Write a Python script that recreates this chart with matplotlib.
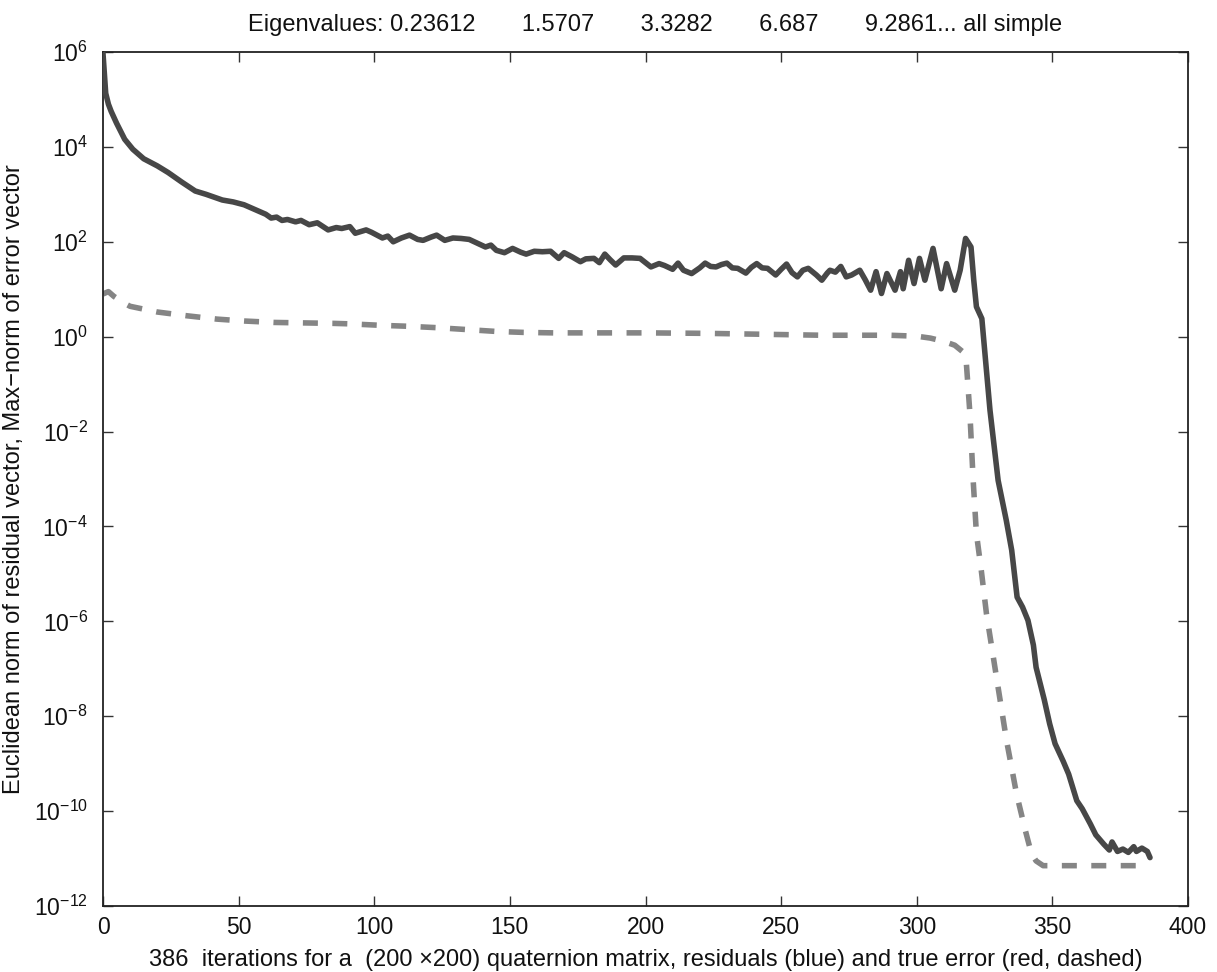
import numpy as np
import matplotlib
matplotlib.use("Agg")
import matplotlib.pyplot as plt
from matplotlib.ticker import LogFormatterSciNotation, NullLocator, FixedLocator

plt.rcParams['font.family'] = ['Liberation Sans', 'DejaVu Sans']
plt.rcParams['mathtext.fontset'] = 'custom'
plt.rcParams['mathtext.rm'] = 'Liberation Sans'
plt.rcParams['mathtext.it'] = 'Liberation Sans:italic'
plt.rcParams['mathtext.bf'] = 'Liberation Sans:bold'
plt.rcParams['mathtext.default'] = 'regular'
plt.rcParams['lines.scale_dashes'] = False

# Residual norm (solid): iteration, log10(value)
res_iter = [0, 1, 2, 3, 5, 8, 11, 15, 20, 24, 29, 34, 38, 44, 48, 52, 56, 60, 62, 64,
            66, 68, 71, 73, 76, 79, 83, 86, 88, 91, 93, 97, 99, 101, 103, 105, 107, 110, 113, 116,
            118, 121, 123, 126, 129, 132, 135, 138, 141, 143, 145, 148, 151, 154, 156, 159, 162, 165, 168, 170,
            173, 176, 178, 181, 183, 185, 187, 189, 192, 195, 198, 200, 202, 205, 207, 210, 212, 214, 217, 220,
            222, 224, 226, 228, 230, 232, 234, 237, 239, 241, 243, 245, 248, 250, 252, 254, 256, 258, 260, 263,
            265, 267, 268, 270, 272, 274, 276, 279, 281, 283, 285, 287, 289, 292, 294, 295, 297, 299, 301, 303,
            306, 309, 311, 314, 316, 318, 320, 321, 322, 324, 327, 330, 333, 335, 337, 339, 341, 343, 344, 347,
            349, 351, 354, 356, 359, 361, 364, 366, 369, 371, 372, 374, 376, 378, 380, 381, 383, 385, 386]
res_log10 = [5.97, 5.13, 4.90, 4.75, 4.50, 4.16, 3.95, 3.75, 3.60, 3.46, 3.26, 3.07, 3.00, 2.88, 2.84, 2.78, 2.68, 2.58, 2.50, 2.52,
             2.45, 2.47, 2.42, 2.45, 2.36, 2.40, 2.25, 2.30, 2.28, 2.32, 2.18, 2.25, 2.20, 2.14, 2.08, 2.12, 2.00, 2.08, 2.14, 2.05,
             2.03, 2.10, 2.14, 2.03, 2.08, 2.07, 2.05, 1.97, 1.89, 1.93, 1.82, 1.77, 1.86, 1.78, 1.74, 1.80, 1.79, 1.80, 1.65, 1.77,
             1.68, 1.58, 1.64, 1.65, 1.56, 1.74, 1.62, 1.51, 1.66, 1.66, 1.65, 1.56, 1.47, 1.54, 1.50, 1.42, 1.55, 1.40, 1.33, 1.45,
             1.55, 1.48, 1.47, 1.52, 1.55, 1.45, 1.44, 1.34, 1.46, 1.54, 1.45, 1.44, 1.30, 1.42, 1.53, 1.35, 1.26, 1.40, 1.44, 1.30,
             1.19, 1.34, 1.40, 1.36, 1.48, 1.26, 1.30, 1.40, 1.20, 0.98, 1.37, 0.91, 1.33, 0.98, 1.37, 1.01, 1.61, 1.12, 1.65, 1.19,
             1.86, 1.01, 1.54, 0.98, 1.40, 2.07, 1.89, 1.20, 0.63, 0.38, -1.55, -3.03, -3.87, -4.50, -5.49, -5.70, -5.98, -6.50, -6.97, -7.65,
             -8.16, -8.58, -8.95, -9.22, -9.78, -9.95, -10.27, -10.50, -10.70, -10.82, -10.65, -10.85, -10.80, -10.87, -10.75, -10.85, -10.78, -10.85, -10.98]

# True error (dashed): iteration, log10(value)
err_iter = [0, 2, 4, 8, 10, 15, 20, 31, 42, 52, 63, 74, 85, 91, 102, 112, 123, 134, 145, 155,
            166, 200, 222, 244, 265, 290, 300, 305, 310, 314, 317, 318.3, 319.6, 320.8, 322, 323.8, 325.7, 329.4, 333.1, 336.8,
            340, 342.3, 344, 346.6, 384]
err_log10 = [0.90, 0.95, 0.85, 0.70, 0.64, 0.58, 0.52, 0.44, 0.37, 0.33, 0.30, 0.29, 0.28, 0.27, 0.24, 0.22, 0.19, 0.15, 0.11, 0.09,
             0.08, 0.08, 0.07, 0.05, 0.03, 0.03, 0.01, -0.03, -0.10, -0.18, -0.32, -0.57, -1.62, -3.03, -4.15, -4.93, -5.84, -7.18, -8.51, -9.64,
             -10.40, -10.90, -11.05, -11.15, -11.15]

x_ticks = [0, 50, 100, 150, 200, 250, 300, 350, 400]
y_ticks = [1e-12, 1e-10, 1e-8, 1e-6, 1e-4, 1e-2, 1e0, 1e2, 1e4, 1e6]

title_text = "Eigenvalues: 0.23612       1.5707       3.3282       6.687       9.2861... all simple"
xlabel_text = "386  iterations for a  (200 \u00d7200) quaternion matrix, residuals (blue) and true error (red, dashed)"
ylabel_text = "Euclidean norm of residual vector, Max\u2212norm of error vector"

W, H = 1217, 972
fig = plt.figure(figsize=(W / 100, H / 100), dpi=100)
ax = fig.add_axes([103 / W, 1 - 906 / H, (1188 - 103) / W, (906 - 52) / H])

ax.semilogy(res_iter, 10.0 ** np.array(res_log10), color='#474747', lw=4.0,
            solid_joinstyle='round', solid_capstyle='round', zorder=3)
ax.semilogy(err_iter, 10.0 ** np.array(err_log10), color='#858585', lw=4.0,
            dashes=(10.8, 10.4), zorder=2)

ax.set_xlim(0, 400)
ax.set_ylim(1e-12, 1e6)
ax.xaxis.set_major_locator(FixedLocator(x_ticks))
ax.yaxis.set_major_locator(FixedLocator(y_ticks))
ax.yaxis.set_minor_locator(NullLocator())
ax.yaxis.set_major_formatter(LogFormatterSciNotation())
ax.tick_params(which='major', direction='in', length=7.5, width=1.0, color='#333333',
               top=True, right=True, labelsize=16.5, labelcolor='#111111')
ax.tick_params(axis='x', pad=7)
ax.tick_params(axis='y', pad=11)
for s in ax.spines.values():
    s.set_linewidth(1.3)
    s.set_color('#222222')

fig.text(248 / W, 1 - 25 / H, title_text, fontsize=17, color='#111111',
         ha='left', va='center')
ax.set_xlabel(xlabel_text, fontsize=17, color='#111111')
ax.set_ylabel(ylabel_text, fontsize=17, color='#111111')
ax.xaxis.set_label_coords(0.5, -0.050)
ax.yaxis.set_label_coords(-0.072, 0.5)

fig.savefig("out.png", dpi=100)
